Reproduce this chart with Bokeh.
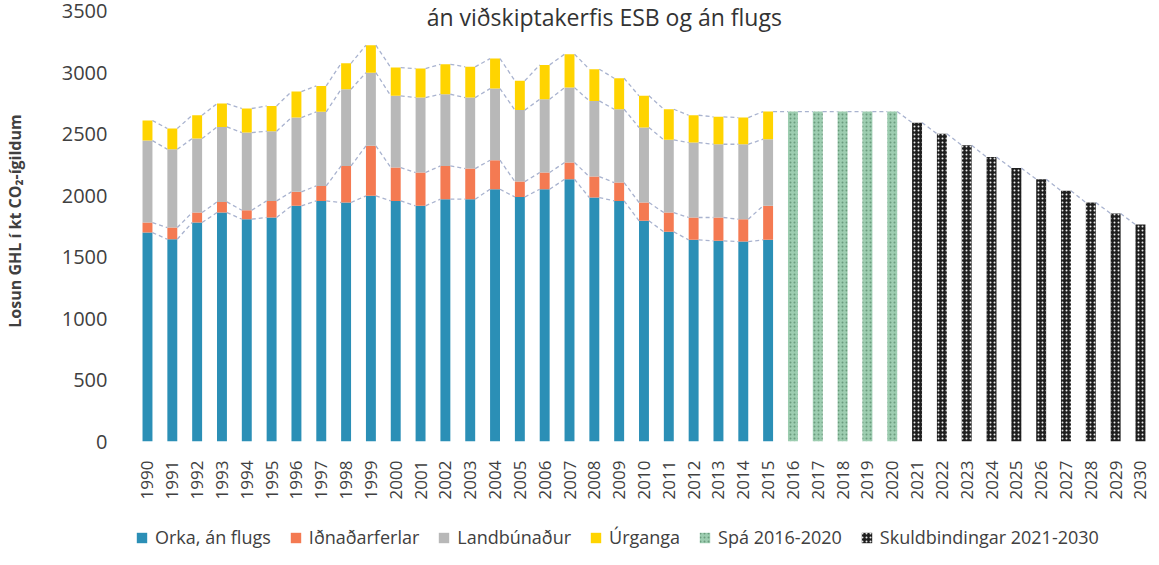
import math
from bokeh.plotting import figure
from bokeh.layouts import column
from bokeh.models import Legend, LegendItem, FixedTicker, Label, Range1d
from bokeh.embed import file_html
from bokeh.resources import INLINE

# ---- data ----
years_hist = [1990, 1991, 1992, 1993, 1994, 1995, 1996, 1997, 1998, 1999,
              2000, 2001, 2002, 2003, 2004, 2005, 2006, 2007, 2008, 2009,
              2010, 2011, 2012, 2013, 2014, 2015]
orka = [1700, 1646, 1782, 1863, 1809, 1823, 1918, 1958, 1945, 1999,
        1958, 1918, 1972, 1972, 2053, 1990, 2053, 2134, 1985, 1958,
        1796, 1706, 1641, 1633, 1627, 1641]
idnadur = [82, 95, 81, 87, 73, 135, 114, 122, 298, 407,
           271, 271, 271, 249, 236, 125, 136, 136, 171, 149,
           149, 157, 182, 190, 182, 277]
landbunadur = [667, 637, 602, 610, 632, 567, 604, 603, 624, 596,
               584, 610, 583, 578, 583, 582, 596, 610, 616, 597,
               610, 592, 610, 596, 610, 542]
urgangur = [163, 169, 190, 190, 196, 206, 212, 211, 211, 223,
            230, 236, 244, 250, 244, 239, 280, 272, 258, 252,
            258, 249, 222, 223, 217, 225]
years_spa = [2016, 2017, 2018, 2019, 2020]
spa = [2685, 2685, 2685, 2685, 2685]
years_skuld = [2021, 2022, 2023, 2024, 2025, 2026, 2027, 2028, 2029, 2030]
skuld = [2595, 2505, 2410, 2315, 2225, 2135, 2040, 1945, 1855, 1765]

series_names = ["Orka, án flugs", "Iðnaðarferlar", "Landbúnaður", "Úrganga",
                "Spá 2016-2020", "Skuldbindingar 2021-2030"]
title_text = "án viðskiptakerfis ESB og án flugs"
y_label = "Losun GHL í kt CO₂-ígildum"
y_ticks = [0, 500, 1000, 1500, 2000, 2500, 3000, 3500]

# ---- styling ----
FONT = "Open Sans"
TXT = "#404040"
BAR_W = 0.4
colors = ["#2b8fb6", "#f47a52", "#b8b8b8", "#ffd400"]
spa_style = dict(fill_color="#9dcdb0", line_color=None, hatch_pattern="dot",
                 hatch_color="#5e8f70", hatch_scale=4, hatch_weight=1.2,
                 hatch_alpha=0.8)
skuld_style = dict(fill_color="#1e1e1e", line_color=None, hatch_pattern="dot",
                   hatch_color="white", hatch_scale=4, hatch_weight=1.2,
                   hatch_alpha=0.9)

all_years = years_hist + years_spa + years_skuld

p = figure(frame_width=1016, frame_height=441, output_backend="svg",
           toolbar_location=None,
           x_range=Range1d(1989.517, 2030.444), y_range=Range1d(0, 3589),
           min_border_left=127, min_border_right=0, min_border_top=0,
           min_border_bottom=82)
p.outline_line_color = None
p.xgrid.grid_line_color = None
p.ygrid.grid_line_color = None

# stacked bars
levels = [orka, idnadur, landbunadur, urgangur]
bottoms = [0] * len(years_hist)
tops_all = []
for vals, col in zip(levels, colors):
    tops = [b + v for b, v in zip(bottoms, vals)]
    p.vbar(x=years_hist, width=BAR_W, bottom=bottoms, top=tops,
           fill_color=col, line_color=None)
    tops_all.append(tops)
    bottoms = tops

p.vbar(x=years_spa, width=BAR_W, bottom=0, top=spa, **spa_style)
p.vbar(x=years_skuld, width=BAR_W, bottom=0, top=skuld, **skuld_style)

# series lines (right edge of a bar's top to left edge of the next bar's top)
xs, ys = [], []
for tops in tops_all:
    for i in range(len(years_hist) - 1):
        xs.append([years_hist[i] + BAR_W / 2, years_hist[i + 1] - BAR_W / 2])
        ys.append([tops[i], tops[i + 1]])
tot_years = [years_hist[-1]] + years_spa + years_skuld
tot_vals = [tops_all[-1][-1]] + spa + skuld
for i in range(len(tot_years) - 1):
    xs.append([tot_years[i] + BAR_W / 2, tot_years[i + 1] - BAR_W / 2])
    ys.append([tot_vals[i], tot_vals[i + 1]])
p.multi_line(xs=xs, ys=ys, line_color="#a9b3cf", line_dash="4 3", line_width=1.3)

# axes
ya = p.yaxis[0]
ya.ticker = FixedTicker(ticks=y_ticks)
ya.axis_line_color = None
ya.major_tick_line_color = None
ya.minor_tick_line_color = None
ya.major_tick_out = 0
ya.minor_tick_out = 0
ya.major_label_text_font = FONT
ya.major_label_text_font_size = "20px"
ya.major_label_text_color = TXT
ya.major_label_standoff = 28
ya.axis_label = y_label
ya.axis_label_text_font = FONT
ya.axis_label_text_font_style = "bold"
ya.axis_label_text_font_size = "16px"
ya.axis_label_text_color = TXT
ya.axis_label_standoff = 33

xa = p.xaxis[0]
xa.ticker = FixedTicker(ticks=all_years)
xa.major_label_overrides = {y: str(y) for y in all_years}
xa.major_label_orientation = math.pi / 2
xa.axis_line_color = None
xa.major_tick_line_color = None
xa.minor_tick_line_color = None
xa.major_label_text_font = FONT
xa.major_label_text_font_size = "17px"
xa.major_label_text_color = TXT
xa.major_label_standoff = 13

# title inside plot area
p.add_layout(Label(x=2008.4, y=3451, text=title_text, text_align="center",
                   text_baseline="alphabetic", text_font=FONT,
                   text_font_size="23px", text_color="#333333"))

# ---- legend strip below the chart ----
lf = figure(width=1143, height=26, output_backend="svg", toolbar_location=None,
            x_range=Range1d(0, 1), y_range=Range1d(0, 1),
            x_axis_location=None, y_axis_location=None, min_border=0)
lf.outline_line_color = None
lf.xgrid.grid_line_color = None
lf.ygrid.grid_line_color = None
# swatch renderers: one point each, placed outside the visible range
leg_renderers = [lf.vbar(x=[5], top=[1], width=0.1, fill_color=c, line_color=None)
                 for c in colors]
leg_renderers.append(lf.vbar(x=[5], top=[1], width=0.1, **spa_style))
leg_renderers.append(lf.vbar(x=[5], top=[1], width=0.1, **skuld_style))

legend = Legend(items=[LegendItem(label=n, renderers=[r])
                       for n, r in zip(series_names, leg_renderers)],
                orientation="horizontal", location=(0, 0),
                label_text_font=FONT, label_text_font_size="18px",
                label_text_color=TXT, glyph_width=13, glyph_height=13,
                label_standoff=7, spacing=18, padding=0, margin=0,
                border_line_color=None, background_fill_alpha=0)
lf.add_layout(legend, "center")

layout = column(p, lf, spacing=0)
open("out.html", "w").write(file_html(layout, INLINE))
